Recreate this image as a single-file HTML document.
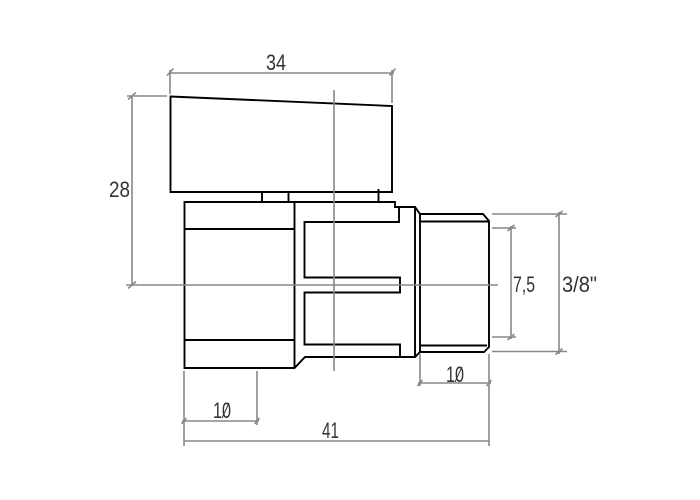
<!DOCTYPE html>
<html>
<head>
<meta charset="utf-8">
<style>
html,body{margin:0;padding:0;background:#fff}
svg{display:block}
text{font-family:"Liberation Sans",sans-serif;font-size:22px;fill:#333}
</style>
</head>
<body>
<svg width="700" height="500" viewBox="0 0 700 500" xmlns="http://www.w3.org/2000/svg">
<g fill="none" stroke="#000" stroke-width="1.9">
<path d="M170.500 96.500L392 106V192H170.500Z"/>
<path d="M262 192V202M288.500 192V202M378.500 189V202"/>
<path d="M184.500 202H395V207H415L420 214H483L489 221V347L484 352H420L415 357H305L294.500 368H184.500Z"/>
<path d="M294.500 202V368M184.500 229H294.500M184.500 340H294.500"/>
<path d="M399 207V222H304.500V277.500H400V292.500H304.500V344.500H400V357"/>
<path d="M415 207V357M420 214V352M420 221.500H489M420 345.500H487"/>
</g>
<g fill="none" stroke="#888" stroke-width="1.6">
<path d="M334 90V371M126 285H498"/>
<path d="M169 73H394M170 70V94M392 70V103M167 75.500L173.500 68.500M389.500 75.500L395.500 68.500"/>
<path d="M127 96H167M132 95V286M128 99.500L136 92.500M128 288.500L136 281.500"/>
<path d="M184 371V446M257 371V425M182 421H259M181.500 424L186.500 418M254.500 424L259.500 418"/>
<path d="M184 441H489M489 354V446"/>
<path d="M420 354V386M418 383H491M417.500 386L422.500 380M486.500 386L491.500 380"/>
<path d="M492 214H567M492 351.500H567M559 212V354M555.500 217L562.500 211M555.500 354.500L562.500 348.500"/>
<path d="M492 228H516M492 337H516M511 226V339M507.500 231L514.500 225M507.500 340L514.500 334"/>
</g>
<text x="266" y="70" textLength="20" lengthAdjust="spacingAndGlyphs">34</text>
<text x="109" y="197" textLength="21" lengthAdjust="spacingAndGlyphs">28</text>
<text x="513" y="292" textLength="22" lengthAdjust="spacingAndGlyphs">7,5</text>
<text x="562" y="292" textLength="35" lengthAdjust="spacingAndGlyphs">3/8"</text>
<text x="322" y="438" textLength="17" lengthAdjust="spacingAndGlyphs">41</text>
<text x="213" y="418" textLength="18" lengthAdjust="spacingAndGlyphs">10</text>
<text x="446" y="382" textLength="18" lengthAdjust="spacingAndGlyphs">10</text>
<path d="M222 418L229 403M455 382L462 367" stroke="#333" stroke-width="1" fill="none"/>
</svg>
</body>
</html>
